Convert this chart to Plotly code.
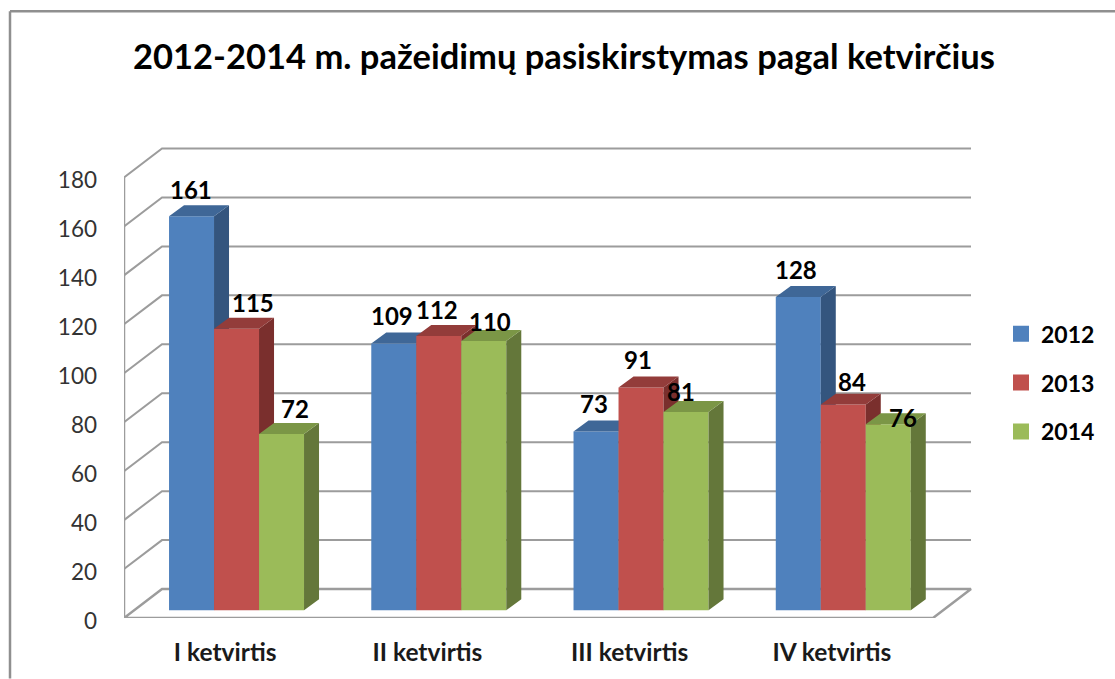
import plotly.graph_objects as go

categories = ["I ketvirtis", "II ketvirtis", "III ketvirtis", "IV ketvirtis"]
years = ["2012", "2013", "2014"]
values_2012 = [161, 109, 73, 128]
values_2013 = [115, 112, 91, 84]
values_2014 = [72, 110, 81, 76]
y_ticks = [0, 20, 40, 60, 80, 100, 120, 140, 160, 180]

# styles
FACE = ["#4F81BD", "#C0504D", "#9BBB59"]
TOP = ["#3F6797", "#933C3A", "#7B9646"]
SIDE = ["#34557E", "#7A2F2D", "#64773A"]
GRID = "#9C9C9C"
FONT = "Lato"

# label offsets from the bar's top centre, in pixels (right, up)
label_shift_2012 = [(-1, 27), (-2, 28), (-2, 28), (-2, 27)]
label_shift_2013 = [(16, 26), (-2, 27), (-3, 28), (9, 23)]
label_shift_2014 = [(13, 25), (6, 19), (-5, 20), (15, 7)]

# geometry in pixels
W, H = 1115, 679
L, R, T, B = 124, 975, 140, 618.5
PX_Y = 2.45                     # pixels per value unit
PX_X = 202.25                   # pixels per category
WALL_DX, WALL_DY = 38 / PX_X, 29 / PX_Y
BAR_W = 45 / PX_X
BAR_DX, BAR_DY = 15 / PX_X, 11 / PX_Y
BAR_LIFT = 7.8 / PX_Y
GROUP_SHIFT = 11.4 / PX_X

y_top = (B - T) / PX_Y
x_end = (R - L) / PX_X
n = len(categories)

fig = go.Figure()

# walls and floor
gx, gy = [], []
for v in y_ticks[1:]:
    gx += [0, WALL_DX, n + WALL_DX, None]
    gy += [v, v + WALL_DY, v + WALL_DY, None]
fig.add_trace(go.Scatter(x=gx, y=gy, mode="lines", line=dict(color=GRID, width=2),
                         showlegend=False, hoverinfo="skip"))
fig.add_trace(go.Scatter(x=[0, 0, None, 0, n, n + WALL_DX, WALL_DX, 0],
                         y=[0, y_ticks[-1], None, 0, 0, WALL_DY, WALL_DY, 0],
                         mode="lines", line=dict(color=GRID, width=2.5),
                         showlegend=False, hoverinfo="skip"))

series = [values_2012, values_2013, values_2014]
shifts = [label_shift_2012, label_shift_2013, label_shift_2014]
annotations = []
for s, (name, vals) in enumerate(zip(years, series)):
    ya = f"y{s + 2}"
    xs = [i + 0.5 + GROUP_SHIFT + (s - 1) * BAR_W for i in range(n)]
    fig.add_trace(go.Bar(x=xs, y=vals, width=BAR_W, name=name, yaxis=ya,
                         marker=dict(color=FACE[s], line=dict(width=0)),
                         showlegend=False, legendgroup=name, hoverinfo="skip"))
    tx, ty, sx, sy = [], [], [], []
    for x, v in zip(xs, vals):
        a, b = x - BAR_W / 2, x + BAR_W / 2
        tx += [a, b, b + BAR_DX, a + BAR_DX, a, None]
        ty += [v, v, v + BAR_DY, v + BAR_DY, v, None]
        sx += [b, b + BAR_DX, b + BAR_DX, b, b, None]
        sy += [0, BAR_DY, v + BAR_DY, v, 0, None]
    for px, py, col in ((sx, sy, SIDE[s]), (tx, ty, TOP[s])):
        fig.add_trace(go.Scatter(x=px, y=py, yaxis=ya, mode="lines", fill="toself",
                                 fillcolor=col, line=dict(width=0), showlegend=False,
                                 hoverinfo="skip"))
    for x, v, (dx, dy) in zip(xs, vals, shifts[s]):
        annotations.append(dict(x=x, y=v, xref="x", yref=ya, text=str(v), showarrow=False,
                                xshift=dx, yshift=dy, xanchor="center", yanchor="middle",
                                font=dict(family=FONT, size=24, color="#000000", weight=700)))
    # legend entry
    fig.add_trace(go.Scatter(x=[None], y=[None], name=name, mode="markers", legendgroup=name,
                             marker=dict(symbol="square", size=16, color=FACE[s]),
                             hoverinfo="skip"))

axis_y = dict(range=[0, y_top], tickvals=y_ticks, ticks="", showgrid=False, zeroline=False,
              showline=False, ticklabelstandoff=26, ticklabelshift=3,
              tickfont=dict(family=FONT, size=22.5, color="#333333"))
over = dict(range=[-BAR_LIFT, y_top - BAR_LIFT], overlaying="y", visible=False)

px_x = lambda p: (p - L) / (R - L)
px_y = lambda p: (B - p) / (B - T)
border = dict(color="#8F8F8F", width=2.5)

fig.update_layout(
    width=W, height=H, autosize=False,
    margin=dict(l=L, r=W - R, t=T, b=H - B, pad=0, autoexpand=False),
    paper_bgcolor="white", plot_bgcolor="white",
    barmode="overlay", hovermode=False,
    title=dict(text="<b>2012-2014 m. pažeidimų pasiskirstymas pagal ketvirčius</b>",
               x=564 / W, xanchor="center", xref="container",
               y=1 - 57 / H, yanchor="middle", yref="container",
               font=dict(family=FONT, size=34.5, color="#000000")),
    xaxis=dict(range=[0, x_end], tickvals=[i + 0.5 for i in range(n)], ticktext=categories,
               ticks="", showgrid=False, zeroline=False, showline=False, ticklabelstandoff=17,
               tickfont=dict(family=FONT, size=24.5, color="#1A1A1A", weight=700)),
    yaxis=axis_y, yaxis2=over, yaxis3=over, yaxis4=over,
    legend=dict(x=px_x(1001), y=px_y(383), xanchor="left", yanchor="middle",
                tracegroupgap=16, bgcolor="rgba(0,0,0,0)", borderwidth=0,
                font=dict(family=FONT, size=23, color="#000000", weight=700)),
    annotations=annotations,
    shapes=[
        dict(type="line", xref="paper", yref="paper", x0=px_x(10), x1=px_x(10),
             y0=px_y(11), y1=px_y(H), line=border),
        dict(type="line", xref="paper", yref="paper", x0=px_x(10), x1=px_x(W),
             y0=px_y(11), y1=px_y(11), line=border),
    ],
)

fig.write_html("out.html", config=dict(displayModeBar=False),
               post_script="document.body.style.margin='0';document.documentElement.style.overflow='hidden';")
